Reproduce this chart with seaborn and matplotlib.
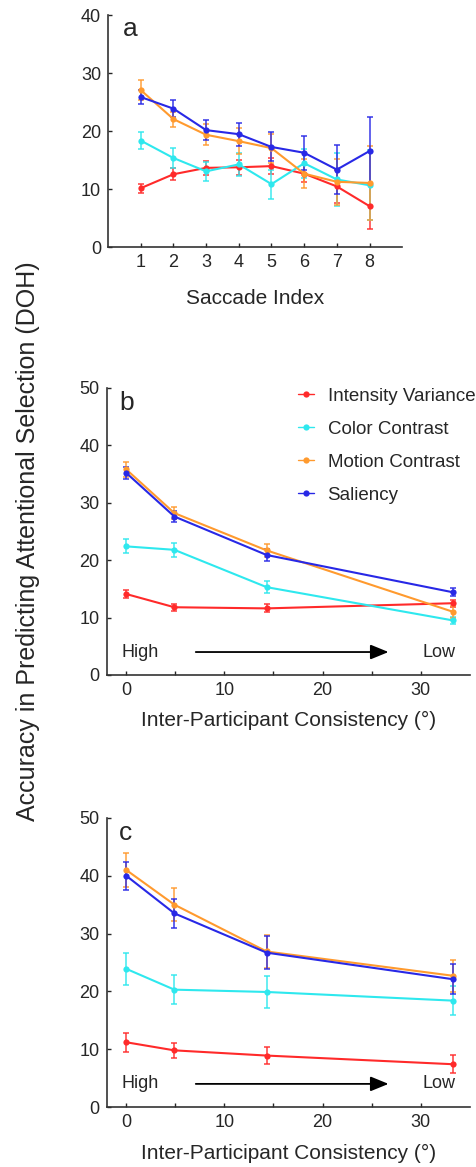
import numpy as np
import pandas as pd
import matplotlib
matplotlib.use("Agg")
import matplotlib.pyplot as plt
import seaborn as sns

# feature names and colours
features = ["Intensity Variance", "Color Contrast", "Motion Contrast", "Saliency"]
colors = ["#ff2a2a", "#2ee8ee", "#ff9a2e", "#2828e6"]

# panel a: accuracy by saccade index
saccade_idx = [1, 2, 3, 4, 5, 6, 7, 8]
a_intensity = [10.2, 12.6, 13.7, 13.8, 14.0, 12.7, 10.5, 7.1]
a_color = [18.4, 15.4, 13.1, 14.3, 10.9, 14.5, 11.7, 10.7]
a_motion = [27.1, 22.1, 19.4, 18.3, 17.1, 12.7, 11.3, 11.1]
a_saliency = [25.9, 23.9, 20.2, 19.5, 17.3, 16.3, 13.4, 16.6]
a_intensity_err = [0.8, 1.0, 1.2, 1.3, 1.4, 1.5, 2.8, 4.0]
a_color_err = [1.5, 1.8, 1.6, 2.0, 2.5, 2.5, 4.5, 6.0]
a_motion_err = [1.7, 1.3, 1.8, 2.2, 2.5, 2.5, 4.0, 6.3]
a_saliency_err = [1.2, 1.5, 1.7, 2.0, 2.5, 2.9, 4.2, 5.8]

# panels b and c: accuracy by inter-participant consistency
consistency = [0.0, 4.9, 14.3, 33.3]
b_intensity = [14.1, 11.8, 11.6, 12.5]
b_color = [22.4, 21.8, 15.3, 9.5]
b_motion = [35.8, 28.2, 21.7, 11.0]
b_saliency = [35.2, 27.6, 20.9, 14.4]
b_intensity_err = [0.7, 0.6, 0.7, 0.6]
b_color_err = [1.2, 1.2, 1.1, 0.6]
b_motion_err = [1.3, 1.0, 1.2, 1.0]
b_saliency_err = [1.0, 0.9, 1.0, 0.7]

c_intensity = [11.2, 9.8, 8.9, 7.4]
c_color = [23.9, 20.3, 19.9, 18.4]
c_motion = [41.0, 35.0, 26.9, 22.7]
c_saliency = [40.0, 33.5, 26.7, 22.1]
c_intensity_err = [1.6, 1.3, 1.5, 1.6]
c_color_err = [2.8, 2.5, 2.7, 2.5]
c_motion_err = [3.0, 2.8, 2.9, 2.8]
c_saliency_err = [2.4, 2.5, 2.8, 2.6]


def to_long(x, series, errs):
    rows = []
    for name, vals, ee in zip(features, series, errs):
        for xi, v, e in zip(x, vals, ee):
            rows.append({"x": xi, "y": v, "err": e, "feature": name})
    return pd.DataFrame(rows)


df_a = to_long(saccade_idx, [a_intensity, a_color, a_motion, a_saliency],
               [a_intensity_err, a_color_err, a_motion_err, a_saliency_err])
df_b = to_long(consistency, [b_intensity, b_color, b_motion, b_saliency],
               [b_intensity_err, b_color_err, b_motion_err, b_saliency_err])
df_c = to_long(consistency, [c_intensity, c_color, c_motion, c_saliency],
               [c_intensity_err, c_color_err, c_motion_err, c_saliency_err])

sns.set_style("ticks")
plt.rcParams["font.family"] = ["Liberation Sans", "DejaVu Sans"]

fig = plt.figure(figsize=(4.76, 11.67), dpi=100)
ax_a = fig.add_axes([0.227, 0.788, 0.618, 0.199])
ax_b = fig.add_axes([0.224, 0.4216, 0.763, 0.246])
ax_c = fig.add_axes([0.224, 0.0514, 0.763, 0.2477])

palette = dict(zip(features, colors))


def draw(ax, df, legend=False):
    for name in features:
        sub = df[df.feature == name]
        ax.errorbar(sub.x, sub.y, yerr=sub.err, fmt="none", ecolor=palette[name],
                    elinewidth=1.2, capsize=2.2, capthick=1.2, alpha=0.85, zorder=2)
    sns.lineplot(data=df, x="x", y="y", hue="feature", palette=palette,
                 marker="o", markersize=4.5, markeredgewidth=0, linewidth=1.5,
                 legend=legend, ax=ax, zorder=3)
    sns.despine(ax=ax)
    ax.tick_params(direction="in", length=3, labelsize=13, width=1, pad=5)
    for s in ax.spines.values():
        s.set_linewidth(1.2)
        s.set_color("#333333")
    ax.set_ylabel("")


draw(ax_a, df_a)
ax_a.set_xlim(0, 9)
ax_a.set_ylim(0, 40)
ax_a.set_xticks(saccade_idx)
ax_a.set_yticks([0, 10, 20, 30, 40])
ax_a.set_xlabel("Saccade Index", fontsize=15, labelpad=13)
ax_a.text(0.05, 0.99, "a", transform=ax_a.transAxes, fontsize=19, va="top")

for ax, df, letter in [(ax_b, df_b, "b"), (ax_c, df_c, "c")]:
    draw(ax, df, legend=(letter == "b"))
    ax.set_xlim(-2, 35)
    ax.set_ylim(0, 50)
    ax.set_xticks([0, 10, 20, 30])
    ax.set_xticks([5, 15, 25], minor=True)
    ax.tick_params(which="minor", direction="in", length=3, width=1)
    ax.set_yticks([0, 10, 20, 30, 40, 50])
    ax.set_xlabel("Inter-Participant Consistency (°)", fontsize=15, labelpad=9)
    ax.text(0.035, 0.99, letter, transform=ax.transAxes, fontsize=19, va="top")
    ax.text(-0.5, 4.0, "High", fontsize=13, va="center", ha="left")
    ax.text(33.5, 4.0, "Low", fontsize=13, va="center", ha="right")
    ax.annotate("", xy=(27.0, 4.0), xytext=(6.8, 4.0),
                arrowprops=dict(arrowstyle="-|>,head_length=1.1,head_width=0.45",
                                color="black", lw=1.3))

leg = ax_b.legend(loc="upper left", bbox_to_anchor=(0.505, 1.027), frameon=False,
                  fontsize=13.5, handlelength=0.9, labelspacing=0.85,
                  handletextpad=0.7, borderaxespad=0)
for h in leg.legend_handles:
    h.set_linewidth(1.0)

fig.text(0.058, 0.536, "Accuracy in Predicting Attentional Selection (DOH)",
         rotation=90, va="center", ha="center", fontsize=18)

fig.savefig("out.png", dpi=100)
